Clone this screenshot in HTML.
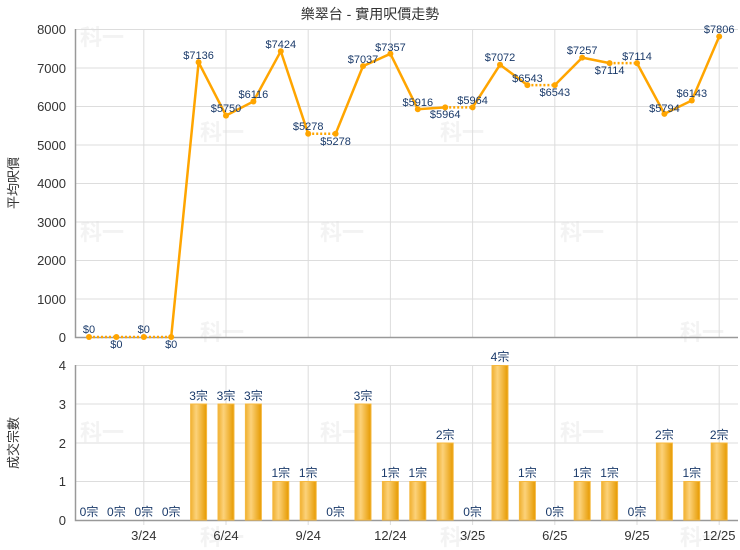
<!DOCTYPE html>
<html><head><meta charset="utf-8"><style>
body{margin:0;background:#fff}
svg{display:block;font-family:"Liberation Sans","Noto Sans CJK TC",sans-serif}
</style></head><body>
<svg width="740" height="550" viewBox="0 0 740 550">
<defs>
<linearGradient id="bg" x1="0" x2="1" y1="0" y2="0">
<stop offset="0" stop-color="#f0b030"/><stop offset="0.35" stop-color="#fcd27a"/><stop offset="1" stop-color="#e69a00"/>
</linearGradient>
</defs>
<rect width="740" height="550" fill="#fff"/>
<text x="370" y="19" text-anchor="middle" font-size="14" fill="#333">樂翠台 - 實用呎價走勢</text>
<g fill="#f3f3f3" font-size="22" font-weight="bold">
<text x="80" y="45">科一</text><text x="200" y="140">科一</text><text x="320" y="240">科一</text><text x="560" y="240">科一</text><text x="80" y="240">科一</text><text x="440" y="140">科一</text><text x="200" y="340">科一</text><text x="680" y="340">科一</text><text x="80" y="440">科一</text><text x="320" y="440">科一</text><text x="560" y="440">科一</text><text x="200" y="545">科一</text><text x="440" y="545">科一</text><text x="680" y="545">科一</text>
</g>
<g stroke="#ddd" stroke-width="1">
<line x1="75" y1="29.5" x2="738" y2="29.5"/><line x1="75" y1="68" x2="738" y2="68"/><line x1="75" y1="106.5" x2="738" y2="106.5"/><line x1="75" y1="145" x2="738" y2="145"/><line x1="75" y1="183.5" x2="738" y2="183.5"/><line x1="75" y1="222" x2="738" y2="222"/><line x1="75" y1="260.5" x2="738" y2="260.5"/><line x1="75" y1="299" x2="738" y2="299"/>
<line x1="75" y1="365.5" x2="738" y2="365.5"/><line x1="75" y1="404" x2="738" y2="404"/><line x1="75" y1="443" x2="738" y2="443"/><line x1="75" y1="481.5" x2="738" y2="481.5"/>
<path d="M143.8 29V337M226 29V337M308.2 29V337M390.4 29V337M472.6 29V337M554.8 29V337M637 29V337M719.2 29V337"/>
<path d="M143.8 365V525M226 365V525M308.2 365V525M390.4 365V525M472.6 365V525M554.8 365V525M637 365V525M719.2 365V525"/>
</g>
<g stroke="#999" stroke-width="1.5" fill="none">
<path d="M75.5 29V337.5H738"/><path d="M75.5 365V520.5H738"/>
</g>
<g font-size="13" fill="#333" text-anchor="end">
<text x="66" y="34">8000</text><text x="66" y="73">7000</text><text x="66" y="111">6000</text><text x="66" y="150">5000</text><text x="66" y="188">4000</text><text x="66" y="227">3000</text><text x="66" y="265">2000</text><text x="66" y="304">1000</text><text x="66" y="342">0</text>
<text x="66" y="370">4</text><text x="66" y="409">3</text><text x="66" y="448">2</text><text x="66" y="486">1</text><text x="66" y="525">0</text>
</g>
<g font-size="13" fill="#333" text-anchor="middle">
<text x="143.8" y="540">3/24</text><text x="226" y="540">6/24</text><text x="308.2" y="540">9/24</text><text x="390.4" y="540">12/24</text><text x="472.6" y="540">3/25</text><text x="554.8" y="540">6/25</text><text x="637" y="540">9/25</text><text x="719.2" y="540">12/25</text>
</g>
<text transform="translate(18,183) rotate(-90)" font-size="13" fill="#333" text-anchor="middle">平均呎價</text>
<text transform="translate(18,443) rotate(-90)" font-size="13" fill="#333" text-anchor="middle">成交宗數</text>
<g stroke="#ffa500" stroke-width="2.5" fill="none">
<path d="M171.2 337L198.6 62.3L226 115.6L253.4 101.5L280.8 51.2L308.2 133.8"/>
<path d="M335.6 133.8L363 66.1L390.4 53.8L417.8 109.2L445.2 107.4"/>
<path d="M472.6 107.4L500 64.7L527.4 85.1"/>
<path d="M554.8 85.1L582.2 57.6L609.6 63.1"/>
<path d="M637 63.1L664.4 113.9L691.8 100.5L719.2 36.5"/>
</g>
<g stroke="#ffa500" stroke-width="2.5" fill="none" stroke-dasharray="2 2">
<path d="M89 337H171.2"/><path d="M308.2 133.8H335.6"/><path d="M445.2 107.4H472.6"/><path d="M527.4 85.1H554.8"/><path d="M609.6 63.1H637"/>
</g>
<g fill="#ffa500">
<circle cx="89" cy="337" r="3"/><circle cx="116.4" cy="337" r="3"/><circle cx="143.8" cy="337" r="3"/><circle cx="171.2" cy="337" r="3"/><circle cx="198.6" cy="62.3" r="3"/><circle cx="226" cy="115.6" r="3"/><circle cx="253.4" cy="101.5" r="3"/><circle cx="280.8" cy="51.2" r="3"/><circle cx="308.2" cy="133.8" r="3"/><circle cx="335.6" cy="133.8" r="3"/><circle cx="363" cy="66.1" r="3"/><circle cx="390.4" cy="53.8" r="3"/><circle cx="417.8" cy="109.2" r="3"/><circle cx="445.2" cy="107.4" r="3"/><circle cx="472.6" cy="107.4" r="3"/><circle cx="500" cy="64.7" r="3"/><circle cx="527.4" cy="85.1" r="3"/><circle cx="554.8" cy="85.1" r="3"/><circle cx="582.2" cy="57.6" r="3"/><circle cx="609.6" cy="63.1" r="3"/><circle cx="637" cy="63.1" r="3"/><circle cx="664.4" cy="113.9" r="3"/><circle cx="691.8" cy="100.5" r="3"/><circle cx="719.2" cy="36.5" r="3"/>
</g>
<g font-size="11" fill="#1a3a6a" text-anchor="middle">
<text x="89" y="333">$0</text><text x="116.4" y="348">$0</text><text x="143.8" y="333">$0</text><text x="171.2" y="348">$0</text>
<text x="198.6" y="59">$7136</text><text x="226" y="112">$5750</text><text x="253.4" y="98">$6116</text><text x="280.8" y="48">$7424</text><text x="308.2" y="130">$5278</text><text x="335.6" y="145">$5278</text><text x="363" y="63">$7037</text><text x="390.4" y="51">$7357</text><text x="417.8" y="106">$5916</text><text x="445.2" y="118">$5964</text><text x="472.6" y="104">$5964</text><text x="500" y="61">$7072</text><text x="527.4" y="82">$6543</text><text x="554.8" y="96">$6543</text><text x="582.2" y="54">$7257</text><text x="609.6" y="74">$7114</text><text x="637" y="60">$7114</text><text x="664.4" y="112">$5794</text><text x="691.8" y="97">$6143</text><text x="719.2" y="33">$7806</text>
</g>
<g fill="url(#bg)" stroke="#f5b840" stroke-width="1">
<rect x="190.6" y="404" width="16" height="116"/><rect x="218" y="404" width="16" height="116"/><rect x="245.4" y="404" width="16" height="116"/><rect x="272.8" y="481.5" width="16" height="38.5"/><rect x="300.2" y="481.5" width="16" height="38.5"/><rect x="355" y="404" width="16" height="116"/><rect x="382.4" y="481.5" width="16" height="38.5"/><rect x="409.8" y="481.5" width="16" height="38.5"/><rect x="437.2" y="443" width="16" height="77"/><rect x="492" y="365.5" width="16" height="154.5"/><rect x="519.4" y="481.5" width="16" height="38.5"/><rect x="574.2" y="481.5" width="16" height="38.5"/><rect x="601.6" y="481.5" width="16" height="38.5"/><rect x="656.4" y="443" width="16" height="77"/><rect x="683.8" y="481.5" width="16" height="38.5"/><rect x="711.2" y="443" width="16" height="77"/>
</g>
<g font-size="12" fill="#1a3a6a" text-anchor="middle">
<text x="89" y="516">0宗</text><text x="116.4" y="516">0宗</text><text x="143.8" y="516">0宗</text><text x="171.2" y="516">0宗</text><text x="198.6" y="400">3宗</text><text x="226" y="400">3宗</text><text x="253.4" y="400">3宗</text><text x="280.8" y="477">1宗</text><text x="308.2" y="477">1宗</text><text x="335.6" y="516">0宗</text><text x="363" y="400">3宗</text><text x="390.4" y="477">1宗</text><text x="417.8" y="477">1宗</text><text x="445.2" y="439">2宗</text><text x="472.6" y="516">0宗</text><text x="500" y="361">4宗</text><text x="527.4" y="477">1宗</text><text x="554.8" y="516">0宗</text><text x="582.2" y="477">1宗</text><text x="609.6" y="477">1宗</text><text x="637" y="516">0宗</text><text x="664.4" y="439">2宗</text><text x="691.8" y="477">1宗</text><text x="719.2" y="439">2宗</text>
</g>
</svg>
</body></html>
